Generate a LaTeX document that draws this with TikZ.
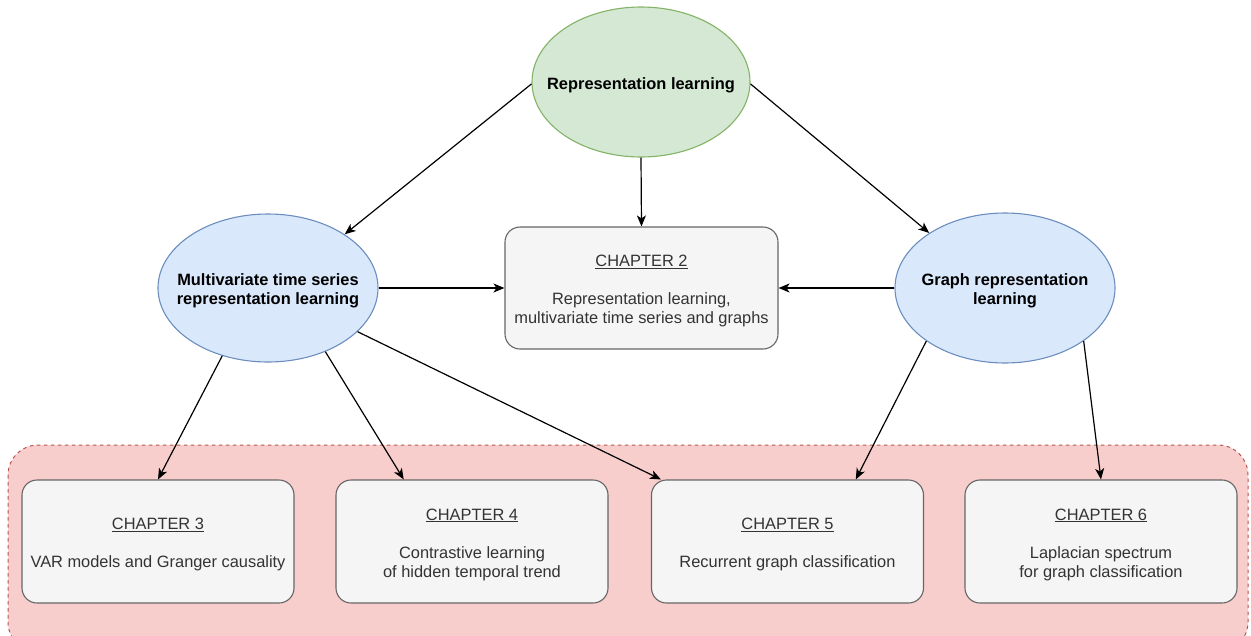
\documentclass[tikz,border=0pt]{standalone}
\usepackage{fontspec}
\setmainfont{Liberation Sans}
\usetikzlibrary{shapes.geometric,arrows.meta,calc}
\definecolor{greenfill}{HTML}{D5E8D4}
\definecolor{greenline}{HTML}{82B366}
\definecolor{bluefill}{HTML}{DAE8FC}
\definecolor{blueline}{HTML}{6C8EBF}
\definecolor{boxfill}{HTML}{F5F5F5}
\definecolor{boxline}{HTML}{666666}
\definecolor{boxtext}{HTML}{333333}
\definecolor{redfill}{HTML}{F8CECC}
\definecolor{redline}{HTML}{B85450}
\newcommand{\hdstrut}{\rule{0pt}{17.5pt}}
\tikzset{
  topic/.style={ellipse, draw, line width=1.1pt, inner xsep=-40pt, inner ysep=-20pt, align=center,
    font=\fontsize{16.4}{19}\selectfont\bfseries},
  greentopic/.style={topic, fill=greenfill, draw=greenline},
  bluetopic/.style={topic, fill=bluefill, draw=blueline, minimum width=220pt, minimum height=148pt},
  chapbox/.style={rectangle, rounded corners=15pt, draw=boxline, fill=boxfill, line width=1.1pt,
    minimum width=272pt, minimum height=123pt, inner sep=0pt, align=center, text=boxtext,
    font=\fontsize{16.4}{19}\selectfont},
  arr/.style={line width=1.2pt, -{Stealth[length=11pt,width=9pt,inset=3pt]}},
  bgpanel/.style={fill=redfill, draw=redline, line width=1pt, dash pattern=on 3.5pt off 3.5pt, rounded corners=30pt}
}
\begin{document}
\begin{tikzpicture}[x=1pt,y=-1pt]
\useasboundingbox (0,0) rectangle (1251,635);
\begin{scope}
\clip (0,0) rectangle (1251,635);
\draw[bgpanel] (8,445) rectangle (1248,652);
\end{scope}

\node[greentopic, minimum width=218pt, minimum height=150pt] (top) at (641,82) {\hdstrut Representation learning};
\node[bluetopic] (mts) at (268,288) {\hdstrut Multivariate time series\\representation learning};
\node[bluetopic, minimum height=150pt] (grl) at (1005,288) {\hdstrut Graph representation\\learning};

\node[chapbox, minimum width=273pt, minimum height=122pt] (ch2) at (641.5,288) {\hdstrut\underline{CHAPTER 2}\\[19pt]Representation learning,\\multivariate time series and graphs};
\node[chapbox] (ch3) at (158,541.5) {\hdstrut\underline{CHAPTER 3}\\[19pt]VAR models and Granger causality};
\node[chapbox] (ch4) at (472,541.5) {\hdstrut\underline{CHAPTER 4}\\[19pt]Contrastive learning\\of hidden temporal trend};
\node[chapbox] (ch5) at (787.5,541.5) {\hdstrut\underline{CHAPTER 5}\\[19pt]Recurrent graph classification};
\node[chapbox] (ch6) at (1101,541.5) {\hdstrut\underline{CHAPTER 6}\\[19pt]Laplacian spectrum\\for graph classification};

\draw[arr] (top.181) -- (mts.35);
\draw[arr] (top.south) -- (ch2.north);
\draw[arr] (top.-1) -- (grl.144.5);
\draw[arr] (mts.east) -- (ch2.west);
\draw[arr] (grl.west) -- (ch2.east);
\draw[arr] (mts.236) -- (ch3.north);
\draw[arr] (mts.-48) -- ($(ch4.north west)!0.25!(ch4.north east)$);
\draw[arr] (mts.-26) -- ($(ch5.north west)+(10,0)$);
\draw[arr] (grl.214) -- ($(ch5.north west)!0.75!(ch5.north east)$);
\draw[arr] (grl.-34.7) -- (ch6.north);
\end{tikzpicture}
\end{document}
